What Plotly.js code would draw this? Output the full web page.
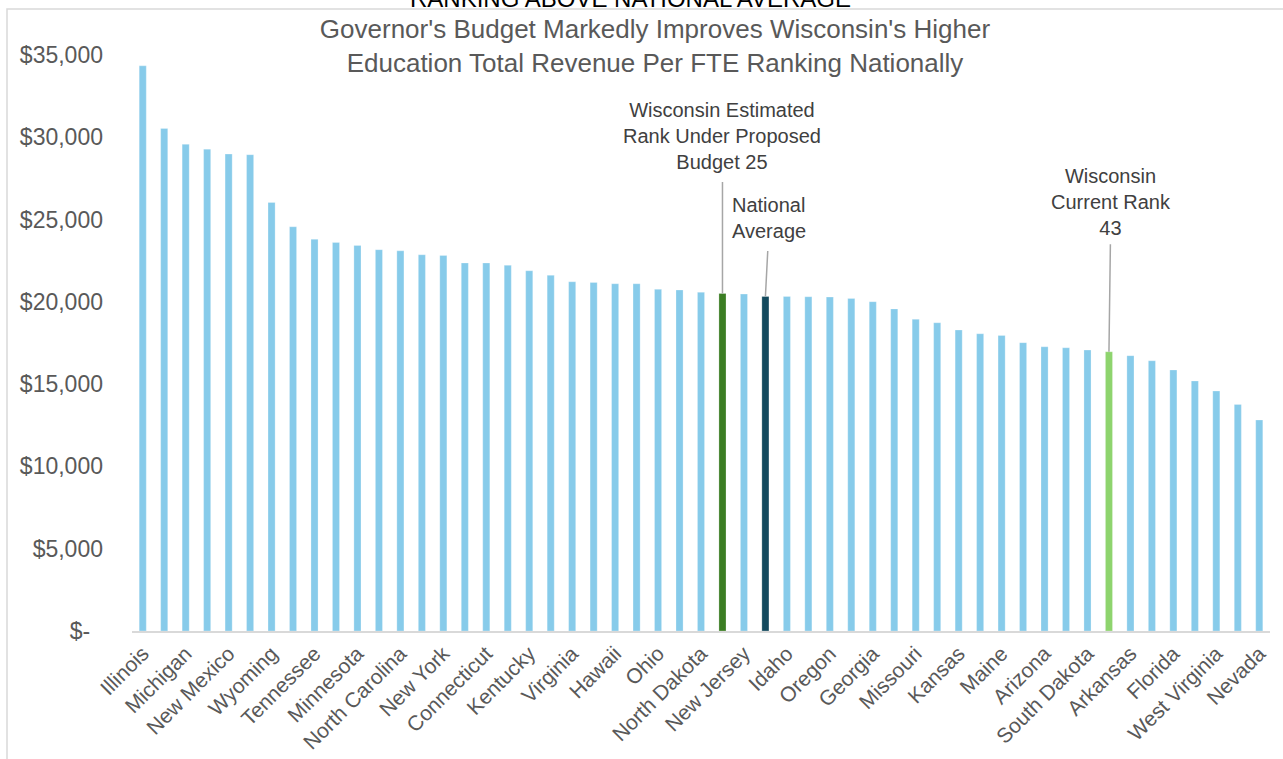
<!DOCTYPE html>
<html>
<head>
<meta charset="utf-8">
<script src="https://cdn.plot.ly/plotly-3.0.1.min.js"></script>
<style>html,body{margin:0;padding:0;background:#fff;}#chart{width:1283px;height:759px;}</style>
</head>
<body>
<div id="chart"></div>
<script>
// Categories (ranked), every bar in the chart
const categories = [
  "Illinois","Alaska","Michigan","Delaware","New Mexico","Vermont","Wyoming","Alabama",
  "Tennessee","Nebraska","Minnesota","Texas","North Carolina","Maryland","New York",
  "New Hampshire","Connecticut","Iowa","Kentucky","South Carolina","Virginia","Pennsylvania",
  "Hawaii","Mississippi","Ohio","Rhode Island","North Dakota","Wisconsin Estimated",
  "New Jersey","National Average","Idaho","Louisiana","Oregon","Indiana","Georgia",
  "Massachusetts","Missouri","Utah","Kansas","Washington","Maine","Oklahoma","Arizona",
  "Montana","South Dakota","Wisconsin","Arkansas","Colorado","Florida","California",
  "West Virginia","District of Columbia","Nevada"
];
// Total revenue per FTE (USD)
const revenuePerFTE = [
  34340,30540,29570,29280,28980,28940,26040,24560,
  23800,23610,23430,23170,23100,22860,22820,
  22360,22360,22220,21890,21610,21220,21180,
  21100,21100,20760,20720,20580,20510,
  20470,20330,20330,20310,20290,20210,20010,
  19570,18940,18730,18290,18060,17960,17520,17270,
  17210,17070,16970,16730,16420,15860,15190,
  14580,13770,12820
];
// Tick labels shown on the x axis
const xTickLabels = [
  "Illinois","Michigan","New Mexico","Wyoming","Tennessee","Minnesota","North Carolina",
  "New York","Connecticut","Kentucky","Virginia","Hawaii","Ohio","North Dakota","New Jersey",
  "Idaho","Oregon","Georgia","Missouri","Kansas","Maine","Arizona","South Dakota","Arkansas",
  "Florida","West Virginia","Nevada"
];
const yTickValues = [0,5000,10000,15000,20000,25000,30000,35000];
const yTickLabels = ["$-\u00a0\u00a0","$5,000","$10,000","$15,000","$20,000","$25,000","$30,000","$35,000"];

const highlightColors = {
  "Wisconsin Estimated": "#3B7D23",
  "National Average": "#134A5E",
  "Wisconsin": "#8ED46E"
};
const barColors = categories.map(c => highlightColors[c] || "#87CBEA");

function valueOf(name){ return revenuePerFTE[categories.indexOf(name)]; }

const FONT = "Liberation Sans, Arial, sans-serif";

const trace = {
  type: "bar",
  x: categories,
  y: revenuePerFTE,
  marker: {color: barColors, line: {color: "rgba(255,255,255,0.5)", width: 0.5}},
  hoverinfo: "x+y"
};

const layout = {
  width: 1283, height: 759,
  margin: {l: 132, r: 13, t: 55, b: 128, pad: 0},
  paper_bgcolor: "#ffffff",
  plot_bgcolor: "#ffffff",
  bargap: 0.67,
  showlegend: false,
  font: {family: FONT, color: "#595959"},
  title: {
    text: "Governor's Budget Markedly Improves Wisconsin's Higher<br>Education Total Revenue Per FTE Ranking Nationally",
    font: {family: FONT, size: 26, color: "#595959"},
    x: 655/1283, xref: "container", xanchor: "center",
    y: 1 - 38/759, yref: "container", yanchor: "middle"
  },
  xaxis: {
    type: "category",
    categoryorder: "array",
    categoryarray: categories,
    tickmode: "array",
    tickvals: xTickLabels,
    ticktext: xTickLabels,
    tickangle: -45,
    tickfont: {family: FONT, size: 21, color: "#595959"},
    showline: true, linecolor: "#D9D9D9", linewidth: 2,
    showgrid: false, zeroline: false, ticks: "",
    range: [-0.5, categories.length - 0.5],
    fixedrange: true
  },
  yaxis: {
    range: [0, 35000],
    tickmode: "array",
    tickvals: yTickValues,
    ticktext: yTickLabels,
    tickfont: {family: FONT, size: 23, color: "#595959"},
    showgrid: false, zeroline: false, showline: false, ticks: "",
    ticklabelstandoff: 28,
    fixedrange: true
  },
  shapes: [{
    type: "rect", xref: "paper", yref: "paper",
    x0: (7-132)/1138, x1: (1300-132)/1138,
    y0: (631-780)/576, y1: 1 + (55-9)/576,
    line: {color: "#D9D9D9", width: 1.5}, fillcolor: "rgba(0,0,0,0)", layer: "below"
  }],
  annotations: [
    {
      text: "RANKING ABOVE NATIONAL AVERAGE",
      xref: "paper", yref: "paper",
      x: (630-132)/1138, y: 1 + (55+1)/576,
      xanchor: "center", yanchor: "middle", showarrow: false,
      font: {family: FONT, size: 24, color: "#000000"}
    },
    {
      text: "Wisconsin Estimated<br>Rank Under Proposed<br>Budget 25",
      x: "Wisconsin Estimated", y: valueOf("Wisconsin Estimated"),
      xref: "x", yref: "y", showarrow: true, arrowhead: 0, arrowwidth: 1.5,
      arrowcolor: "#A6A6A6", ax: 0, ay: -157, borderpad: 8, align: "center",
      font: {family: FONT, size: 20, color: "#404040"}
    },
    {
      text: "National<br>Average",
      x: "National Average", y: valueOf("National Average"),
      xref: "x", yref: "y", showarrow: true, arrowhead: 0, arrowwidth: 1.5,
      arrowcolor: "#A6A6A6", ax: 4, ay: -78, borderpad: 8, align: "left",
      font: {family: FONT, size: 20, color: "#404040"}
    },
    {
      text: "Wisconsin<br>Current Rank<br>43",
      x: "Wisconsin", y: valueOf("Wisconsin"),
      xref: "x", yref: "y", showarrow: true, arrowhead: 0, arrowwidth: 1.5,
      arrowcolor: "#A6A6A6", ax: 2, ay: -150, borderpad: 5, align: "center",
      font: {family: FONT, size: 20, color: "#404040"}
    }
  ]
};

Plotly.newPlot("chart", [trace], layout, {displayModeBar: false, staticPlot: true});
</script>
</body>
</html>
